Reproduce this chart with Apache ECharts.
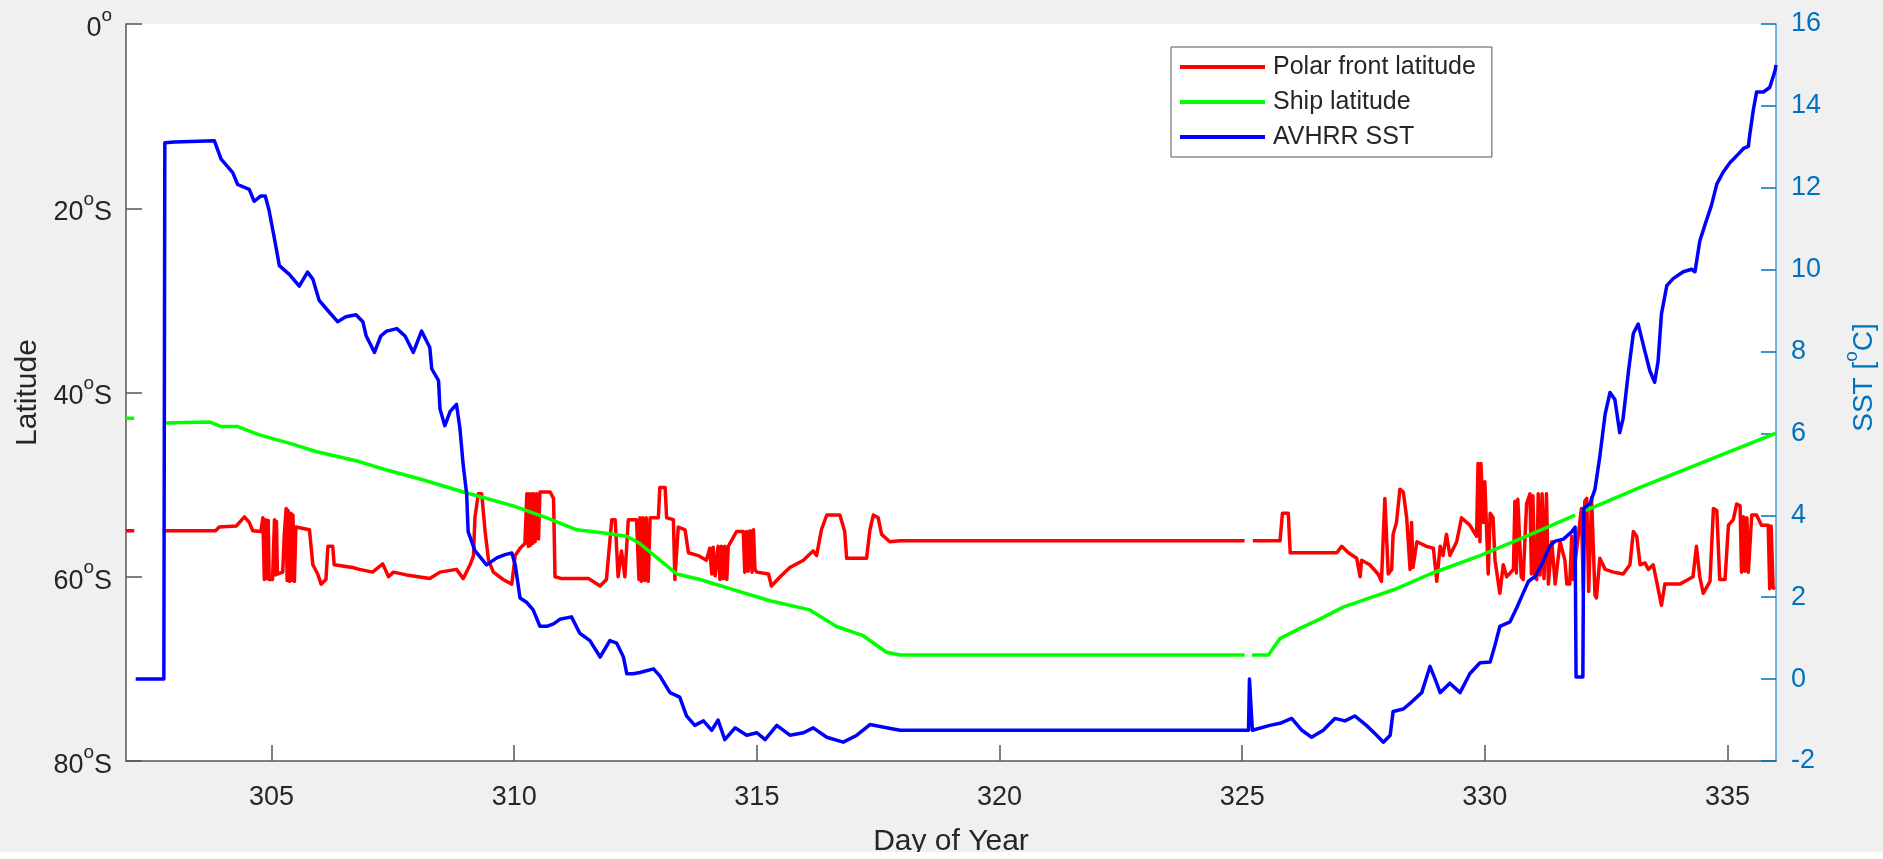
<!DOCTYPE html>
<html>
<head>
<meta charset="utf-8">
<script src="https://cdn.jsdelivr.net/npm/echarts@6/dist/echarts.min.js"></script>
<style>
  html, body { margin: 0; padding: 0; background: #ffffff; }
  #chart { width: 1883px; height: 852px; background: #f0f0f0; }
</style>
</head>
<body>
<div id="chart"></div>
<script>
// Day-of-year ticks and axis ticks
const dayTicks = [305, 310, 315, 320, 325, 330, 335];
const latTicks = [0, 20, 40, 60, 80];
const sstTicks = [-2, 0, 2, 4, 6, 8, 10, 12, 14, 16];

// Polar front latitude (degrees south) vs day of year
const polarFront = [
  [302.0, 55.0], [302.17, 55.0], [302.5, null], [302.8, 55.0], [303.85, 55.0], [303.92, 54.6],
  [304.27, 54.5], [304.44, 53.5], [304.54, 54.1], [304.61, 55.0], [304.78, 55.1], [304.82, 53.6],
  [304.85, 60.3], [304.88, 53.8], [304.9, 60.2], [304.93, 53.9], [304.95, 60.3], [305.02, 60.3],
  [305.06, 53.8], [305.08, 59.8], [305.1, 54.0], [305.12, 59.7], [305.23, 59.5], [305.26, 55.6],
  [305.3, 52.6], [305.32, 60.4], [305.34, 52.8], [305.37, 60.5], [305.4, 53.1], [305.42, 60.4],
  [305.44, 53.3], [305.47, 60.5], [305.5, 54.6], [305.78, 54.9], [305.85, 58.7], [305.95, 59.7],
  [306.02, 60.8], [306.12, 60.3], [306.16, 56.7], [306.26, 56.7], [306.29, 58.7], [306.67, 59.0],
  [306.81, 59.2], [307.08, 59.5], [307.29, 58.6], [307.41, 60.0], [307.51, 59.5], [307.78, 59.8],
  [308.26, 60.2], [308.47, 59.5], [308.81, 59.2], [308.95, 60.2], [309.09, 58.7], [309.16, 57.7],
  [309.19, 53.6], [309.26, 51.0], [309.33, 51.0], [309.4, 55.1], [309.47, 58.2], [309.57, 59.5],
  [309.77, 60.3], [309.95, 60.8], [310.02, 57.7], [310.12, 56.9], [310.22, 56.4], [310.26, 51.0],
  [310.29, 56.7], [310.31, 51.0], [310.33, 56.6], [310.36, 51.0], [310.38, 56.4], [310.4, 51.0],
  [310.43, 56.2], [310.46, 51.0], [310.5, 55.9], [310.53, 50.8], [310.74, 50.8], [310.81, 51.5],
  [310.84, 60.0], [310.98, 60.2], [311.53, 60.2], [311.77, 61.0], [311.9, 60.3], [312.01, 53.8],
  [312.08, 53.8], [312.14, 60.0], [312.21, 57.2], [312.28, 60.0], [312.35, 53.8], [312.52, 53.8],
  [312.57, 60.3], [312.59, 53.6], [312.62, 60.5], [312.65, 53.6], [312.69, 60.4], [312.72, 53.6],
  [312.76, 60.5], [312.8, 53.6], [312.97, 53.6], [313.0, 50.3], [313.11, 50.3], [313.14, 53.6],
  [313.28, 53.8], [313.31, 60.3], [313.38, 54.6], [313.52, 54.9], [313.59, 57.4], [313.79, 57.7],
  [313.96, 58.2], [314.03, 56.9], [314.07, 59.7], [314.1, 56.8], [314.14, 59.9], [314.2, 56.7],
  [314.24, 60.3], [314.27, 56.7], [314.31, 60.2], [314.34, 56.7], [314.38, 60.3], [314.41, 56.7],
  [314.58, 55.1], [314.72, 55.1], [314.75, 59.5], [314.79, 55.1], [314.82, 59.4], [314.86, 55.0],
  [314.9, 59.5], [314.93, 54.9], [314.96, 59.2], [315.0, 59.5], [315.24, 59.7], [315.3, 61.0],
  [315.48, 60.0], [315.68, 59.0], [315.96, 58.2], [316.06, 57.7], [316.16, 57.2], [316.23, 57.7],
  [316.33, 54.9], [316.44, 53.3], [316.71, 53.3], [316.81, 55.1], [316.85, 58.0], [317.26, 58.0],
  [317.33, 54.9], [317.4, 53.3], [317.5, 53.6], [317.57, 55.4], [317.74, 56.2], [317.95, 56.1],
  [325.05, 56.1], [325.12, null], [325.22, 56.1], [325.78, 56.1], [325.83, 53.1], [325.95, 53.1],
  [325.99, 57.4], [326.95, 57.4], [327.05, 56.7], [327.19, 57.4], [327.36, 58.0], [327.43, 60.0],
  [327.46, 58.2], [327.63, 58.7], [327.8, 59.7], [327.87, 60.5], [327.94, 51.5], [328.01, 59.7],
  [328.08, 59.2], [328.11, 55.4], [328.18, 54.1], [328.25, 50.5], [328.32, 50.8], [328.39, 53.6],
  [328.46, 59.2], [328.49, 54.1], [328.52, 59.0], [328.56, 59.2], [328.6, 56.2], [328.8, 56.7],
  [328.94, 56.9], [329.01, 60.5], [329.08, 56.7], [329.14, 57.7], [329.21, 55.4], [329.28, 57.7],
  [329.42, 56.2], [329.52, 53.6], [329.69, 54.4], [329.83, 55.6], [329.86, 47.7], [329.9, 56.2],
  [329.92, 47.7], [329.97, 54.1], [330.0, 49.7], [330.07, 59.7], [330.11, 53.1], [330.17, 53.6],
  [330.21, 58.2], [330.31, 61.8], [330.38, 58.7], [330.45, 60.0], [330.59, 59.2], [330.62, 51.8],
  [330.65, 59.6], [330.68, 51.6], [330.72, 51.5], [330.75, 60.0], [330.79, 60.3], [330.86, 52.1],
  [330.93, 51.0], [330.96, 59.7], [330.99, 51.2], [331.03, 60.0], [331.07, 60.3], [331.1, 51.0],
  [331.14, 59.8], [331.18, 51.0], [331.22, 60.2], [331.27, 51.0], [331.31, 60.8], [331.38, 56.2],
  [331.45, 60.8], [331.55, 56.2], [331.65, 58.2], [331.69, 60.8], [331.75, 60.8], [331.79, 55.6],
  [331.82, 60.3], [331.99, 52.6], [332.03, 61.5], [332.06, 51.8], [332.1, 51.5], [332.14, 61.6],
  [332.17, 61.8], [332.2, 51.4], [332.24, 51.3], [332.27, 62.0], [332.3, 62.3], [332.37, 58.0],
  [332.48, 59.2], [332.65, 59.5], [332.85, 59.7], [332.99, 58.7], [333.06, 55.1], [333.13, 55.6],
  [333.2, 58.7], [333.3, 58.5], [333.37, 59.2], [333.47, 58.7], [333.54, 60.5], [333.64, 63.1],
  [333.71, 60.8], [333.85, 60.8], [334.02, 60.8], [334.19, 60.3], [334.29, 60.0], [334.36, 56.7],
  [334.43, 60.0], [334.5, 61.8], [334.64, 60.5], [334.71, 52.6], [334.78, 52.8], [334.84, 60.3],
  [334.95, 60.3], [335.02, 54.4], [335.12, 53.8], [335.19, 52.1], [335.26, 52.3], [335.29, 59.5],
  [335.33, 53.5], [335.36, 59.4], [335.4, 53.6], [335.43, 59.5], [335.5, 53.3], [335.6, 53.3],
  [335.7, 54.4], [335.84, 54.4], [335.87, 61.3], [335.9, 54.5], [335.94, 61.2], [335.98, 61.3]
];

// Ship latitude (degrees south) vs day of year
const shipLat = [
  [302.0, 42.8], [302.17, 42.8], [302.5, null], [302.8, 43.3], [303.72, 43.2], [303.96, 43.7],
  [304.3, 43.7], [304.75, 44.6], [305.43, 45.6], [305.91, 46.4], [306.74, 47.4], [307.3, 48.3],
  [308.13, 49.5], [308.95, 50.8], [309.98, 52.3], [310.67, 53.6], [311.29, 54.9], [311.77, 55.2],
  [312.32, 55.6], [312.59, 56.4], [313.0, 58.2], [313.35, 59.7], [313.83, 60.3], [314.58, 61.5],
  [315.27, 62.6], [316.09, 63.6], [316.64, 65.4], [317.19, 66.4], [317.67, 68.2], [317.95, 68.5],
  [325.05, 68.5], [325.12, null], [325.2, 68.5], [325.54, 68.5], [325.78, 66.7], [326.19, 65.6],
  [326.6, 64.6], [327.08, 63.3], [327.63, 62.3], [328.18, 61.3], [328.87, 59.7], [329.9, 57.7],
  [330.9, 55.5], [331.86, 53.3], [331.92, null], [332.0, 52.9], [332.17, 52.6], [333.2, 50.3],
  [336.0, 44.4]
];

// AVHRR sea surface temperature (deg C) vs day of year
const avhrrSst = [
  [302.2, 0.0], [302.78, 0.0], [302.8, 13.1], [303.0, 13.12], [303.82, 13.15], [303.96, 12.7],
  [304.2, 12.37], [304.3, 12.08], [304.54, 11.96], [304.64, 11.67], [304.78, 11.8], [304.87, 11.8],
  [304.95, 11.44], [305.06, 10.75], [305.16, 10.1], [305.37, 9.88], [305.57, 9.6], [305.74, 9.94],
  [305.85, 9.77], [305.98, 9.25], [306.19, 8.96], [306.36, 8.73], [306.53, 8.85], [306.74, 8.9],
  [306.88, 8.73], [306.95, 8.38], [307.12, 7.98], [307.25, 8.38], [307.37, 8.5], [307.58, 8.56],
  [307.75, 8.38], [307.92, 7.98], [308.09, 8.5], [308.26, 8.1], [308.3, 7.58], [308.44, 7.29],
  [308.47, 6.6], [308.57, 6.19], [308.68, 6.54], [308.81, 6.71], [308.88, 6.13], [308.95, 5.21],
  [309.02, 4.52], [309.05, 3.6], [309.19, 3.14], [309.43, 2.79], [309.64, 2.96], [309.81, 3.04],
  [309.95, 3.08], [310.02, 2.79], [310.12, 1.98], [310.26, 1.87], [310.39, 1.69], [310.53, 1.29],
  [310.67, 1.29], [310.81, 1.35], [310.94, 1.46], [311.18, 1.52], [311.35, 1.12], [311.56, 0.94],
  [311.77, 0.54], [311.97, 0.94], [312.11, 0.88], [312.25, 0.54], [312.32, 0.13], [312.45, 0.13],
  [312.59, 0.16], [312.87, 0.25], [313.0, 0.08], [313.21, -0.33], [313.41, -0.44], [313.55, -0.9],
  [313.72, -1.13], [313.9, -1.02], [314.07, -1.25], [314.2, -1.0], [314.34, -1.48], [314.55, -1.19],
  [314.79, -1.37], [315.0, -1.31], [315.17, -1.48], [315.41, -1.13], [315.68, -1.37], [315.96, -1.31],
  [316.16, -1.19], [316.44, -1.42], [316.78, -1.54], [317.06, -1.37], [317.33, -1.11], [317.67, -1.19],
  [317.95, -1.25], [325.13, -1.25], [325.15, 0.0], [325.19, 0.0], [325.21, -1.25], [325.57, -1.13],
  [325.78, -1.08], [326.02, -0.96], [326.23, -1.25], [326.43, -1.42], [326.67, -1.25], [326.91, -0.96],
  [327.12, -1.02], [327.32, -0.9], [327.56, -1.13], [327.77, -1.37], [327.91, -1.54], [328.05, -1.37],
  [328.11, -0.79], [328.32, -0.73], [328.49, -0.56], [328.7, -0.33], [328.87, 0.31], [328.97, 0.02],
  [329.08, -0.33], [329.28, -0.1], [329.49, -0.33], [329.69, 0.13], [329.9, 0.4], [330.11, 0.42],
  [330.21, 0.83], [330.31, 1.29], [330.52, 1.4], [330.66, 1.75], [330.79, 2.1], [330.9, 2.39],
  [331.03, 2.5], [331.17, 2.79], [331.34, 3.25], [331.45, 3.37], [331.62, 3.42], [331.79, 3.6],
  [331.86, 3.71], [331.88, 0.05], [332.02, 0.05], [332.04, 4.17], [332.17, 4.29], [332.27, 4.64],
  [332.37, 5.44], [332.48, 6.48], [332.58, 7.0], [332.68, 6.83], [332.78, 6.02], [332.85, 6.37],
  [332.96, 7.52], [333.06, 8.44], [333.16, 8.67], [333.3, 8.0], [333.4, 7.53], [333.5, 7.25],
  [333.57, 7.76], [333.64, 8.92], [333.75, 9.61], [333.88, 9.78], [334.09, 9.95], [334.26, 10.01],
  [334.33, 9.95], [334.43, 10.7], [334.54, 11.11], [334.67, 11.57], [334.78, 12.09], [334.91, 12.38],
  [335.05, 12.61], [335.19, 12.78], [335.33, 12.96], [335.43, 13.01], [335.46, 13.3], [335.53, 13.88],
  [335.6, 14.34], [335.74, 14.34], [335.87, 14.45], [335.98, 14.86], [336.0, 15.0]
];

const FONT = '"Liberation Sans", Arial, Helvetica, sans-serif';
const DARK = '#262626';
const SST_BLUE = '#0072BD';
const AXIS_GREY = '#555555';

const chart = echarts.init(document.getElementById('chart'), null, { renderer: 'canvas' });

const lineSeries = (name, data, color, yAxisIndex) => ({
  name, type: 'line', data, yAxisIndex,
  symbol: 'none', showSymbol: false, connectNulls: false, animation: false,
  lineStyle: { color, width: 3.5, join: 'round' }, itemStyle: { color },
  emphasis: { disabled: true }
});

chart.setOption({
  backgroundColor: '#f0f0f0',
  animation: false,
  textStyle: { fontFamily: FONT },
  grid: {
    left: 126, right: 107, top: 24, bottom: 91,
    containLabel: false, outerBoundsMode: 'none',
    show: true, backgroundColor: '#ffffff', borderWidth: 0
  },
  legend: {
    orient: 'vertical',
    left: 1171, top: 47,
    padding: [5, 16, 5, 9],
    icon: 'rect',
    itemWidth: 85, itemHeight: 4, itemGap: 5,
    backgroundColor: '#ffffff',
    borderColor: AXIS_GREY, borderWidth: 1,
    textStyle: { fontFamily: FONT, fontSize: 25, color: DARK, lineHeight: 30, padding: [0, 0, 0, 3] },
    data: ['Polar front latitude', 'Ship latitude', 'AVHRR SST']
  },
  xAxis: {
    type: 'value', min: 302, max: 336, position: 'bottom',
    name: 'Day of Year', nameLocation: 'middle', nameGap: 66,
    nameTextStyle: { fontFamily: FONT, fontSize: 30, color: DARK },
    axisLine: { show: true, onZero: false, lineStyle: { color: AXIS_GREY, width: 1.5 } },
    axisTick: { show: true, inside: true, length: 16, lineStyle: { color: AXIS_GREY, width: 1.5 } },
    axisLabel: {
      margin: 23, fontFamily: FONT, fontSize: 27, color: DARK,
      showMinLabel: false, showMaxLabel: false,
      formatter: v => dayTicks.includes(v) ? String(v) : ''
    },
    splitLine: { show: false }
  },
  yAxis: [
    {
      type: 'value', inverse: true, min: 0, max: 80, interval: 20, position: 'left',
      name: 'Latitude', nameLocation: 'middle', nameGap: 82, nameRotate: 90,
      nameTextStyle: { fontFamily: FONT, fontSize: 30, color: DARK },
      axisLine: { show: true, onZero: false, lineStyle: { color: AXIS_GREY, width: 1.5 } },
      axisTick: { show: true, inside: true, length: 16, lineStyle: { color: AXIS_GREY, width: 1.5 } },
      axisLabel: {
        margin: 14, fontFamily: FONT, color: DARK,
        formatter: v => latTicks.includes(v)
          ? (v === 0 ? '{n|0}{s|o}' : '{n|' + v + '}{s|o}{n|S}') : '',
        rich: {
          n: { fontFamily: FONT, fontSize: 27, color: DARK, lineHeight: 36, verticalAlign: 'bottom' },
          s: { fontFamily: FONT, fontSize: 19, color: DARK, lineHeight: 22, verticalAlign: 'top' }
        }
      },
      splitLine: { show: false }
    },
    {
      type: 'value', min: -2, max: 16, interval: 2, position: 'right',
      name: '{t|SST [}{s|o}{t|C]}', nameLocation: 'middle', nameGap: 66, nameRotate: 90,
      nameTextStyle: {
        fontFamily: FONT, fontSize: 28, color: SST_BLUE, padding: [0, 0, 0, 30],
        rich: {
          t: { fontFamily: FONT, fontSize: 28, color: SST_BLUE, lineHeight: 36, verticalAlign: 'bottom' },
          s: { fontFamily: FONT, fontSize: 19, color: SST_BLUE, lineHeight: 22, verticalAlign: 'top' }
        }
      },
      axisLine: { show: true, onZero: false, lineStyle: { color: SST_BLUE, width: 1.5, opacity: 0.7 } },
      axisTick: { show: true, inside: true, length: 15, lineStyle: { color: SST_BLUE, width: 1.5 } },
      axisLabel: {
        margin: 15, fontFamily: FONT, fontSize: 27, color: SST_BLUE,
        formatter: v => sstTicks.includes(v) ? String(v) : ''
      },
      splitLine: { show: false }
    }
  ],
  series: [
    lineSeries('Polar front latitude', polarFront, '#ff0000', 0),
    lineSeries('Ship latitude', shipLat, '#00ff00', 0),
    lineSeries('AVHRR SST', avhrrSst, '#0000ff', 1)
  ]
});
</script>
</body>
</html>
